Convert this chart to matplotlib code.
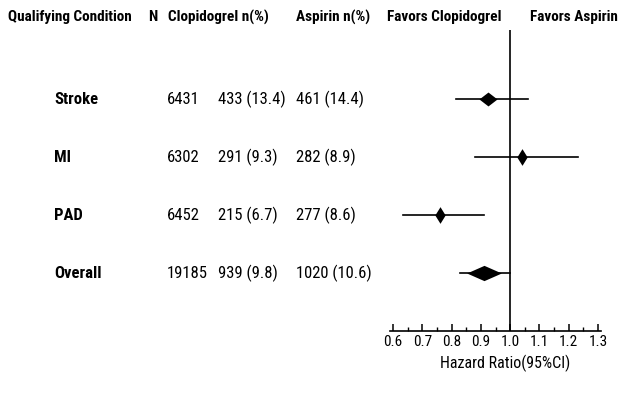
import matplotlib
matplotlib.use('Agg')
import matplotlib.pyplot as plt
from matplotlib.path import Path
from matplotlib.ticker import MultipleLocator
from matplotlib.transforms import blended_transform_factory

conditions = ['Stroke', 'MI', 'PAD', 'Overall']
n_total = ['6431', '6302', '6452', '19185']
clop_events = ['433 (13.4)', '291 (9.3)', '215 (6.7)', '939 (9.8)']
asp_events = ['461 (14.4)', '282 (8.9)', '277 (8.6)', '1020 (10.6)']
hr = [0.924, 1.04, 0.76, 0.91]
ci_low = [0.815, 0.88, 0.635, 0.83]
ci_high = [1.06, 1.23, 0.91, 1.0]
xticks = [0.6, 0.7, 0.8, 0.9, 1.0, 1.1, 1.2, 1.3]

plt.rcParams['font.family'] = ['Roboto Condensed', 'Archivo Narrow', 'DejaVu Sans']

# diamond shape per row: (half width, half height, marker size)
diamonds = [(1.0, 0.77, 13), (0.62, 1.0, 12), (0.62, 1.0, 12), (1.0, 0.44, 25)]

W, H = 636, 395
fig = plt.figure(figsize=(W / 100, H / 100), dpi=100)

# forest plot axes placed in pixel terms
left, right, top, bottom = 390, 601, 30, 331
ax = fig.add_axes([left / W, 1 - bottom / H, (right - left) / W, (bottom - top) / H])
ax.set_xlim(0.59, 1.31)
ax.set_ylim(4.0, -1.19)

rows = list(range(len(conditions)))
for i in rows:
    ax.plot([ci_low[i], ci_high[i]], [i, i], color='black', lw=1.2)
    w, h, ms = diamonds[i]
    shape = Path([(-w, 0), (0, h), (w, 0), (0, -h), (-w, 0)], closed=True)
    ax.plot(hr[i], i, marker=shape, color='black', ms=ms, mew=0)
ax.axvline(1.0, color='black', lw=1.2)

for s in ['top', 'right', 'left']:
    ax.spines[s].set_visible(False)
ax.spines['bottom'].set_linewidth(1.2)
ax.set_yticks([])
ax.set_xticks(xticks)
ax.set_xticklabels([f'{t:.1f}' for t in xticks], fontsize=11)
ax.xaxis.set_minor_locator(MultipleLocator(0.05))
ax.tick_params(axis='x', which='major', direction='in', length=5, width=1.1, pad=3)
ax.tick_params(axis='x', which='minor', direction='in', length=3, width=1)
ax.set_xlabel('Hazard Ratio(95%CI)', fontsize=11.5)
ax.xaxis.set_label_coords(0.545, -0.078)

# header
hy = 1 - 17 / H
hfont = dict(fontsize=11, fontweight='bold', va='center')
fig.text(8 / W, hy, 'Qualifying Condition', **hfont)
fig.text(148 / W, hy, 'N', **hfont)
fig.text(168 / W, hy, 'Clopidogrel n(%)', **hfont)
fig.text(296 / W, hy, 'Aspirin n(%)', **hfont)
fig.text(387 / W, hy, 'Favors Clopidogrel', **hfont)
fig.text(530 / W, hy, 'Favors Aspirin', **hfont)

tr = blended_transform_factory(fig.transFigure, ax.transData)
for i in rows:
    fig.text(54 / W, i, conditions[i], transform=tr, fontsize=12,
             fontweight='bold', va='center')
    fig.text(167 / W, i, n_total[i], transform=tr, fontsize=12, va='center')
    fig.text(218 / W, i, clop_events[i], transform=tr, fontsize=12, va='center')
    fig.text(296 / W, i, asp_events[i], transform=tr, fontsize=12, va='center')

fig.savefig('out.png', dpi=100)
